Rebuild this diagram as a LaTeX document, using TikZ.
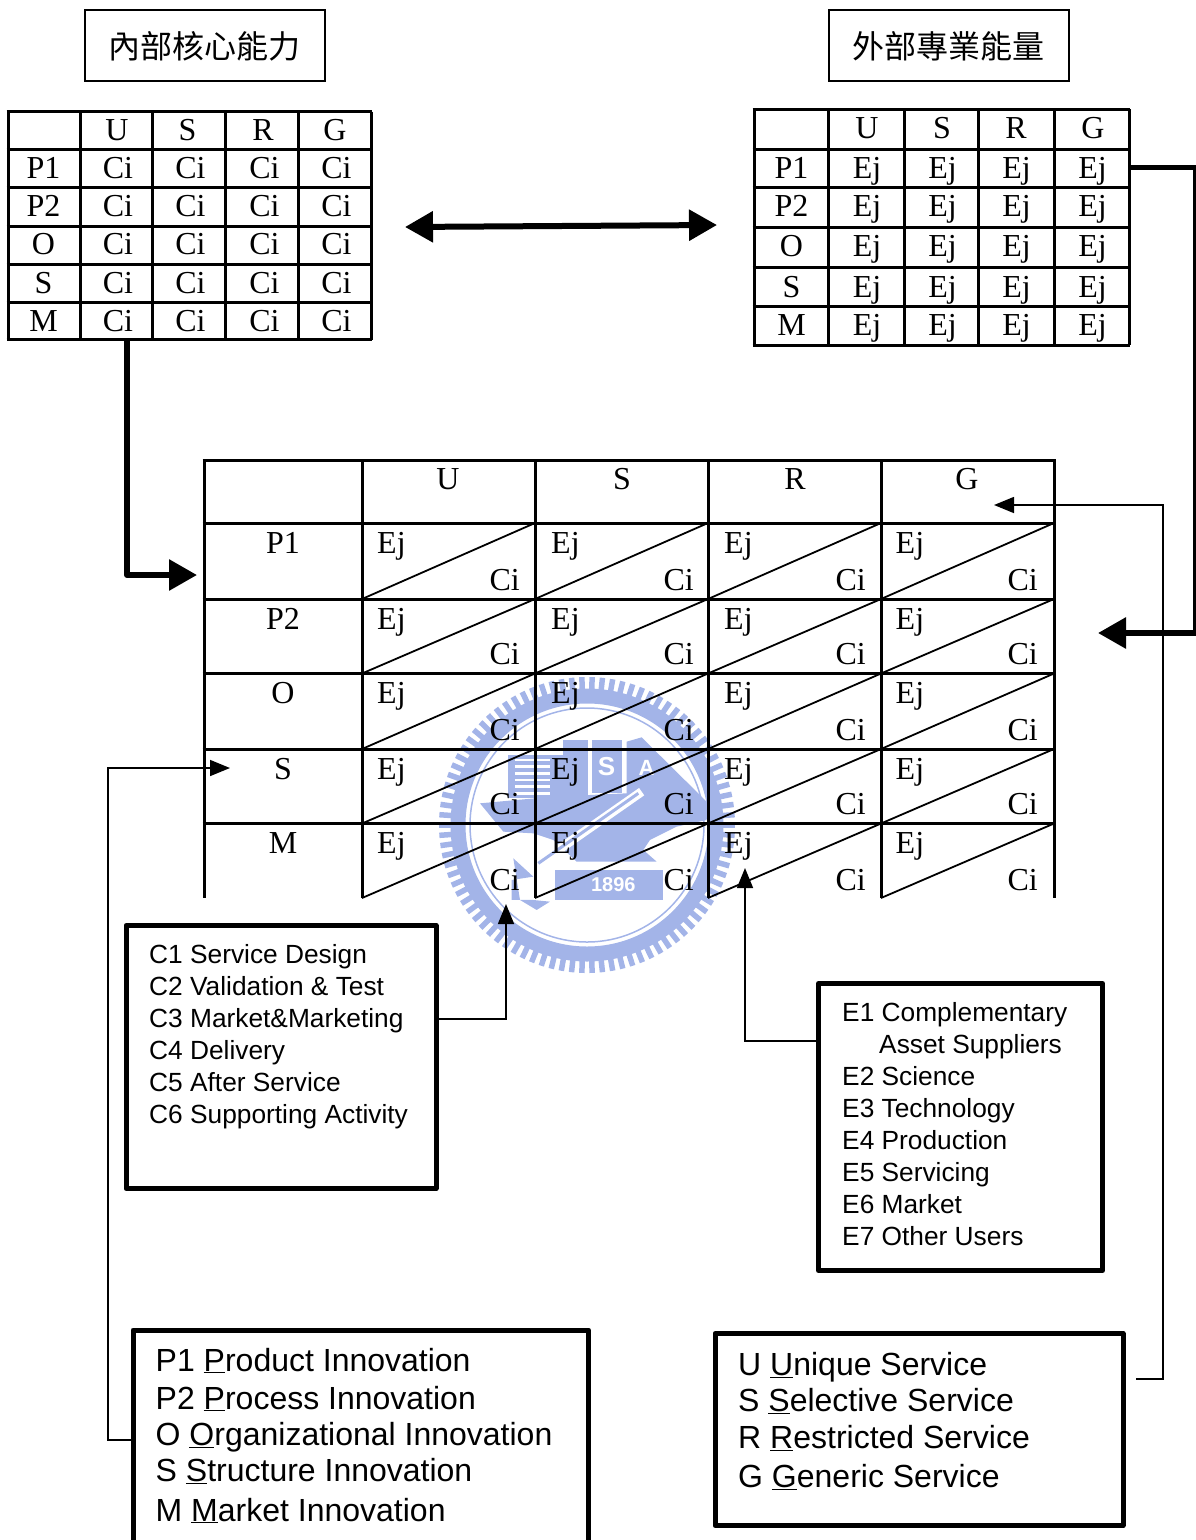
\documentclass[tikz,border=0pt]{standalone}
\usepackage{fontspec}
\setmainfont{Liberation Serif}
\setsansfont{Liberation Sans}
\newfontfamily\cjk{Noto Sans CJK TC}
\usetikzlibrary{arrows.meta}
\definecolor{seal}{HTML}{A3B4E8}
\tikzset{
  cell/.style={anchor=base,inner sep=0pt,font=\fontsize{32}{36}\selectfont},
  cellw/.style={cell,anchor=base west},
  celle/.style={cell,anchor=base east},
  grid/.style={line width=3pt},
  title/.style={draw,line width=2pt,minimum width=240pt,minimum height=71pt,inner sep=0pt,text height=27pt,text depth=1pt,font=\cjk\fontsize{32}{36}\selectfont},
  panel/.style={draw,line width=5pt,line join=round,inner sep=0pt},
  small/.style={anchor=base west,inner sep=0pt,font=\sffamily\fontsize{26.3}{30}\selectfont},
  big/.style={anchor=base west,inner sep=0pt,font=\sffamily\fontsize{32}{36}\selectfont},
  thin/.style={line width=1.6pt,-{Triangle[length=20pt,width=16pt]}},
  thick/.style={line width=6pt,line join=round,-{Triangle[length=28pt,width=30pt]}}
}
\begin{document}
\begin{tikzpicture}[x=1pt,y=-1pt]
  \useasboundingbox (0,0) rectangle (1196,1540);

  \begin{scope}[shift={(587,825)}]
    \foreach \n in {1,...,90}
      \draw[seal,line width=5.5pt] ({\n*4}:133) -- ({\n*4}:148);
    \draw[seal,line width=15pt] (0,0) circle[radius=129];
    \draw[seal,line width=1.5pt] (0,0) circle[radius=117];
  \end{scope}
  \begin{scope}[shift={(420,660)},x=0.3333pt,y=-0.3333pt]
    \fill[seal] (265,285) rectangle (470,415);
    \fill[seal] (430,240) rectangle (505,410);
    \fill[seal] (515,240) rectangle (605,400);
    \fill[seal] (620,245) -- (665,232) -- (865,430) -- (860,480) -- (770,500) -- (690,540)
      -- (670,570) -- (710,605) -- (470,605) -- (400,540) -- (340,520) -- (250,515)
      -- (180,430) -- (400,410) -- (620,400) -- cycle;
    \fill[seal] (280,595) -- (340,650) -- (275,660) -- (275,720) -- (340,720) -- (390,725) -- (350,750) -- (300,720) -- cycle;
    \fill[seal] (405,630) rectangle (730,720);
    \foreach \y in {300,320,340,360,380,400}
      \draw[white,line width=2.5pt] (285,\y) -- (390,\y);
    \draw[white,line width=9pt] (350,615) -- (665,395);
    \draw[seal,line width=3pt] (355,610) -- (655,400);
    \node[white,inner sep=0pt,font=\sffamily\bfseries\fontsize{26}{30}\selectfont] (sealS) at (560,320) {S};
    \node[white,inner sep=0pt,font=\sffamily\bfseries\fontsize{22}{26}\selectfont] (sealA) at (680,325) {A};
    \node[white,inner sep=0pt,font=\sffamily\bfseries\fontsize{20}{24}\selectfont] (sealyear) at (580,675) {1896};
  \end{scope}

  \node[title] (ltitle) at (204.5,45) {內部核心能力};
  \node[title] (rtitle) at (948.5,45) {外部專業能量};

  \foreach \x in {8,80,152,225,298,371}
    \draw[grid] (\x,111.5) -- (\x,339.5);
  \foreach \y in {111.5,149,187,226,264,302,339.5}
    \draw[grid] (6.5,\y) -- (372,\y);
  \foreach \lab/\x in {U/117,S/187.5,R/263,G/335}
    \node[cell] (lh\lab) at (\x,140) {\lab};
  \foreach \lab/\y in {P1/178,P2/216,O/254,S/293,M/331} {
    \node[cell] (lr\lab) at (43.5,\y) {\lab};
    \foreach \x in {118,190.5,264.5,336.5}
      \node[cell] (lc\lab\x) at (\x,\y) {Ci};
  }

  \foreach \x in {754,828,904,978,1054,1129}
    \draw[grid] (\x,109) -- (\x,345);
  \foreach \y in {109,149,187,227,267,306,345}
    \draw[grid] (752.5,\y) -- (1130,\y);
  \foreach \lab/\x in {U/867,S/942,R/1016,G/1093}
    \node[cell] (rh\lab) at (\x,138) {\lab};
  \foreach \lab/\y in {P1/178,P2/216,O/256,S/297,M/335} {
    \node[cell] (rr\lab) at (791.5,\y) {\lab};
    \foreach \x in {867,942.5,1016.5,1092.5}
      \node[cell] (rc\lab\x) at (\x,\y) {Ej};
  }

  \foreach \x in {204,362,535,708,881,1054}
    \draw[grid] (\x,460) -- (\x,898);
  \foreach \y in {460,523,599,673.5,749,823.5}
    \draw[grid] (202.5,\y) -- (1055.5,\y);
  \foreach \x/\xx in {362/535,535/708,708/881,881/1054}
    \foreach \y/\yy in {523/599,599/673.5,673.5/749,749/823.5,823.5/898}
      \draw[line width=1.8pt] (\x,\yy) -- (\xx,\y);
  \foreach \lab/\x in {U/448,S/622,R/795,G/967}
    \node[cell] (mh\lab) at (\x,489.5) {\lab};
  \foreach \lab/\y/\yy in {P1/553/590.5,P2/629.5/664.5,O/703/740.5,S/779/814.5,M/853/890.5} {
    \node[cell] (mr\lab) at (283,\y) {\lab};
    \foreach \x in {377,551,724,895.5}
      \node[cellw] (me\lab\x) at (\x,\y) {Ej};
    \foreach \x in {520,694,866,1038}
      \node[celle] (mc\lab\x) at (\x,\yy) {Ci};
  }

  \node[panel,minimum width=310pt,minimum height=263pt] (cbox) at (281,1057) {};
  \node[panel,minimum width=284pt,minimum height=287pt] (ebox) at (960.5,1127) {};
  \node[panel,minimum width=408pt,minimum height=192pt] (ubox) at (919,1429.5) {};
  \draw[line width=5pt,line join=round] (133,1540) |- (588.5,1330) -- (588.5,1540);

  \foreach \t/\y in {C1 Service Design/963,C2 Validation \& Test/995,C3 Market\&Marketing/1027,
                     C4 Delivery/1059,C5 After Service/1091,C6 Supporting Activity/1123}
    \node[small] (c\y) at (149,\y) {\t};
  \foreach \t/\y in {E1 Complementary/1021,E2 Science/1085,E3 Technology/1117,E4 Production/1149,
                     E5 Servicing/1181,E6 Market/1213,E7 Other Users/1245}
    \node[small] (e\y) at (842,\y) {\t};
  \node[small] (e1053) at (879,1053) {Asset Suppliers};
  \foreach \t/\y in {P1 \underline{P}roduct Innovation/1371,P2 \underline{P}rocess Innovation/1409,
                     O \underline{O}rganizational Innovation/1445,S \underline{S}tructure Innovation/1481,
                     M \underline{M}arket Innovation/1521}
    \node[big] (p\y) at (155.5,\y) {\t};
  \foreach \t/\y in {U \underline{U}nique Service/1375,S \underline{S}elective Service/1411,
                     R \underline{R}estricted Service/1448.5,G \underline{G}eneric Service/1487}
    \node[big] (u\y) at (738,\y) {\t};

  \coordinate (ltail) at (127,340);
  \coordinate (ltip) at (197,575);
  \coordinate (rtail) at (1128,167);
  \coordinate (rtip) at (1098,633);
  \coordinate (dleft) at (405,227);
  \coordinate (dright) at (717,225);
  \coordinate (gtip) at (994,505);
  \coordinate (utail) at (1136,1379);
  \coordinate (stip) at (230,768);
  \coordinate (ptail) at (131,1440);
  \coordinate (citip) at (506,904);
  \coordinate (ejtip) at (745,868);

  \draw[thick] (ltail) |- (ltip);
  \draw[line width=5pt] (rtail) -- (1196,167);
  \draw[line width=3pt] (1194.5,167) -- (1194.5,633);
  \draw[thick] (1196,633) -- (rtip);
  \draw[line width=6pt,{Triangle[length=28pt,width=30pt]}-{Triangle[length=28pt,width=30pt]}] (dleft) -- (dright);
  \draw[thin] (utail) -| (1163,505) -- (gtip);
  \draw[thin] (ptail) -| (108,768) -- (stip);
  \draw[thin] (cbox.east |- 0,1019) -| (citip);
  \draw[thin] (ebox.west |- 0,1041) -| (ejtip);
\end{tikzpicture}
\end{document}
